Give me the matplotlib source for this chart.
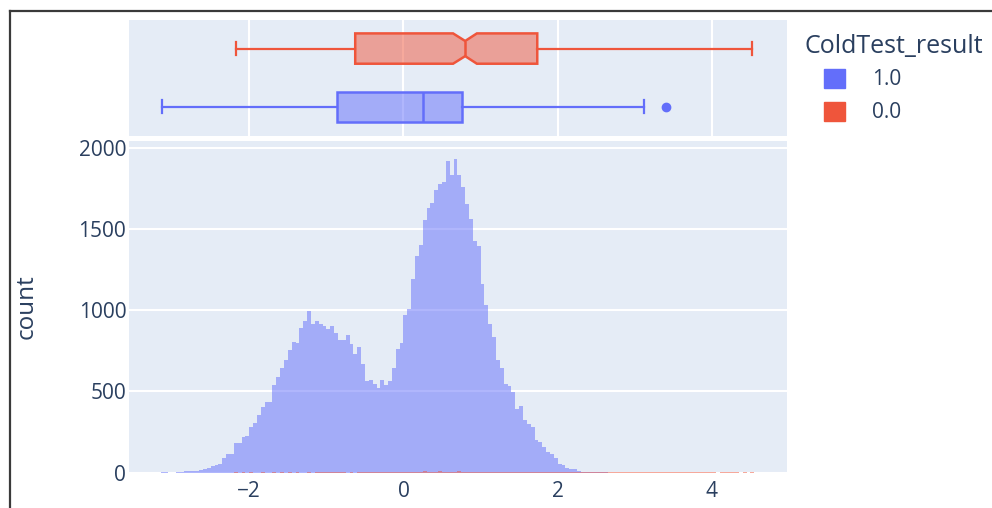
import numpy as np
import matplotlib
matplotlib.use("Agg")
import matplotlib.pyplot as plt
from matplotlib.patches import Patch
from matplotlib.lines import Line2D

# --- data ---
groups = ["1.0", "0.0"]
colors = ["#636efa", "#ef553b"]

bin_width = 0.05
blue_start = -3.15
blue_counts = [
    2, 3, 0, 0, 3, 4, 8, 10, 10, 10, 14, 20, 28, 40, 50, 55, 92, 117, 113, 180,
    182, 220, 225, 281, 308, 353, 406, 435, 437, 537, 589, 646, 695, 753, 802, 798,
    888, 933, 995, 913, 931, 917, 900, 886, 900, 859, 814, 814, 845, 794, 732, 773,
    667, 564, 568, 544, 519, 568, 537, 564, 646, 759, 798, 968, 1009, 1189, 1333,
    1403, 1552, 1630, 1661, 1739, 1774, 1790, 1918, 1829, 1932, 1829, 1758, 1651,
    1563, 1425, 1395, 1163, 1032, 913, 837, 695, 644, 544, 533, 498, 390, 410, 322,
    301, 281, 201, 190, 160, 129, 113, 88, 55, 47, 31, 21, 21, 8, 6, 5, 4, 3, 5, 5,
    2, 1, 1, 0, 1, 0, 1, 0, 0, 1, 0, 0, 0, 0, 0, 1,
]
red_start = -2.20
red_counts = [
    2, 0, 3, 0, 2, 0, 0, 3, 1, 0, 2, 0, 3, 0,
    2, 0, 3, 1, 0, 3, 0, 4, 2, 3, 4, 5, 4, 3, 2, 0, 3, 1,
    4, 3, 5, 4, 6, 3, 5, 4, 6, 5, 4, 6, 5,
    6, 7, 5, 4, 8, 6, 5, 7, 8, 6, 7, 5, 6, 8, 7, 6, 5, 7, 6, 6,
    5, 7, 6, 5, 6, 4, 5, 6, 3, 5, 4, 5, 4, 3,
    4, 3, 4, 2, 3, 4, 3, 2, 3, 4, 3, 2, 3, 2, 4, 3,
    3, 2, 3, 2, 4, 3, 2, 3, 2, 3, 2, 3, 2, 2, 3, 2, 3, 2, 2, 3,
    2, 3, 2, 2, 3, 2, 2, 3, 2, 2, 1, 2, 2, 3, 2, 2, 0, 2, 0, 2,
]

# box summaries: whisker low, q1, median, q3, whisker high
blue_box = [-3.13, -0.868, 0.252, 0.756, 3.118]
blue_outliers = [3.41]
red_box = [-2.166, -0.626, 0.80, 1.735, 4.52]
red_notch = [0.643, 0.952]

x_ticks = [-2, 0, 2, 4]
y_ticks = [0, 500, 1000, 1500, 2000]

# --- style ---
plt.rcParams["font.family"] = ["Open Sans", "DejaVu Sans"]
txt = "#2a3f5f"
bg = "#e5ecf6"

W, H = 992, 508
fig = plt.figure(figsize=(W / 100, H / 100), dpi=100)

ax_box = fig.add_axes([129 / W, 1 - 136 / H, 658 / W, 116 / H])
ax = fig.add_axes([129 / W, 1 - 472.7 / H, 658 / W, 331.7 / H], sharex=ax_box)

for a in (ax_box, ax):
    a.set_facecolor(bg)
    for s in a.spines.values():
        s.set_visible(False)
    a.set_axisbelow(True)
    a.tick_params(length=0, colors=txt, labelsize=15)

# histogram
def edges_for(start, n):
    return start + bin_width * np.arange(n + 1)

b_edges = edges_for(blue_start, len(blue_counts))
r_edges = edges_for(red_start, len(red_counts))
ax.hist(b_edges[:-1] + bin_width / 2, bins=b_edges, weights=blue_counts,
        histtype="stepfilled", color=colors[0], alpha=0.5, linewidth=0)
ax.hist(r_edges[:-1] + bin_width / 2, bins=r_edges, weights=red_counts,
        histtype="stepfilled", color=colors[1], alpha=0.5, linewidth=0)

ax.set_xlim(-3.56, 4.974)
ax.set_ylim(0, 2040)
ax.set_xticks(x_ticks)
ax.set_yticks(y_ticks)
ax.grid(axis="y", color="white", linewidth=1.5)
ax.tick_params(axis="x", pad=6)
ax.tick_params(axis="y", pad=2)
ax.set_ylabel("count", fontsize=17.5, color=txt)
ax.yaxis.set_label_coords(-0.137, 0.5)

# marginal boxes
def stats(v, label, fliers=(), notch=None):
    d = dict(whislo=v[0], q1=v[1], med=v[2], q3=v[3], whishi=v[4],
             fliers=list(fliers), label=label)
    if notch:
        d["cilo"], d["cihi"] = notch
    return d

def style(c):
    return dict(
        boxprops=dict(edgecolor=c, facecolor=matplotlib.colors.to_rgba(c, 0.5), linewidth=1.8),
        medianprops=dict(color=c, linewidth=1.8),
        whiskerprops=dict(color=c, linewidth=1.6),
        capprops=dict(color=c, linewidth=1.6),
        flierprops=dict(marker="o", markerfacecolor=c, markeredgecolor=c, markersize=6),
    )

ax_box.bxp([stats(blue_box, groups[0], blue_outliers)], positions=[0],
           widths=0.52, capwidths=0.22, vert=False, patch_artist=True,
           shownotches=False, **style(colors[0]))
ax_box.bxp([stats(red_box, groups[1], notch=red_notch)], positions=[1],
           widths=0.52, capwidths=0.22, vert=False, patch_artist=True,
           shownotches=True, **style(colors[1]))
ax_box.set_ylim(-0.5, 1.49)
ax_box.set_yticks([])
ax_box.grid(axis="x", color="white", linewidth=1.5)
ax_box.tick_params(labelbottom=False)

# legend: title as text, entries indented below it
fig.text(805 / W, 1 - 46 / H, "ColdTest_result", fontsize=18, color=txt,
         ha="left", va="center")
handles = [Patch(color=c, label=g) for g, c in zip(groups, colors)]
leg = fig.legend(handles=handles, loc="upper left",
                 bbox_to_anchor=(824 / W, 1 - 69 / H), frameon=False,
                 fontsize=15, handlelength=1.0, handleheight=1.0,
                 handletextpad=1.3, labelspacing=0.55, borderpad=0,
                 borderaxespad=0)
for t in leg.get_texts():
    t.set_color(txt)

# screenshot frame
fig.add_artist(Line2D([10 / W, 1], [1 - 11 / H, 1 - 11 / H], color="#3a3a3a", linewidth=1.6))
fig.add_artist(Line2D([10 / W, 10 / W], [0, 1 - 11 / H], color="#3a3a3a", linewidth=1.6))

fig.savefig("out.png", dpi=100)
